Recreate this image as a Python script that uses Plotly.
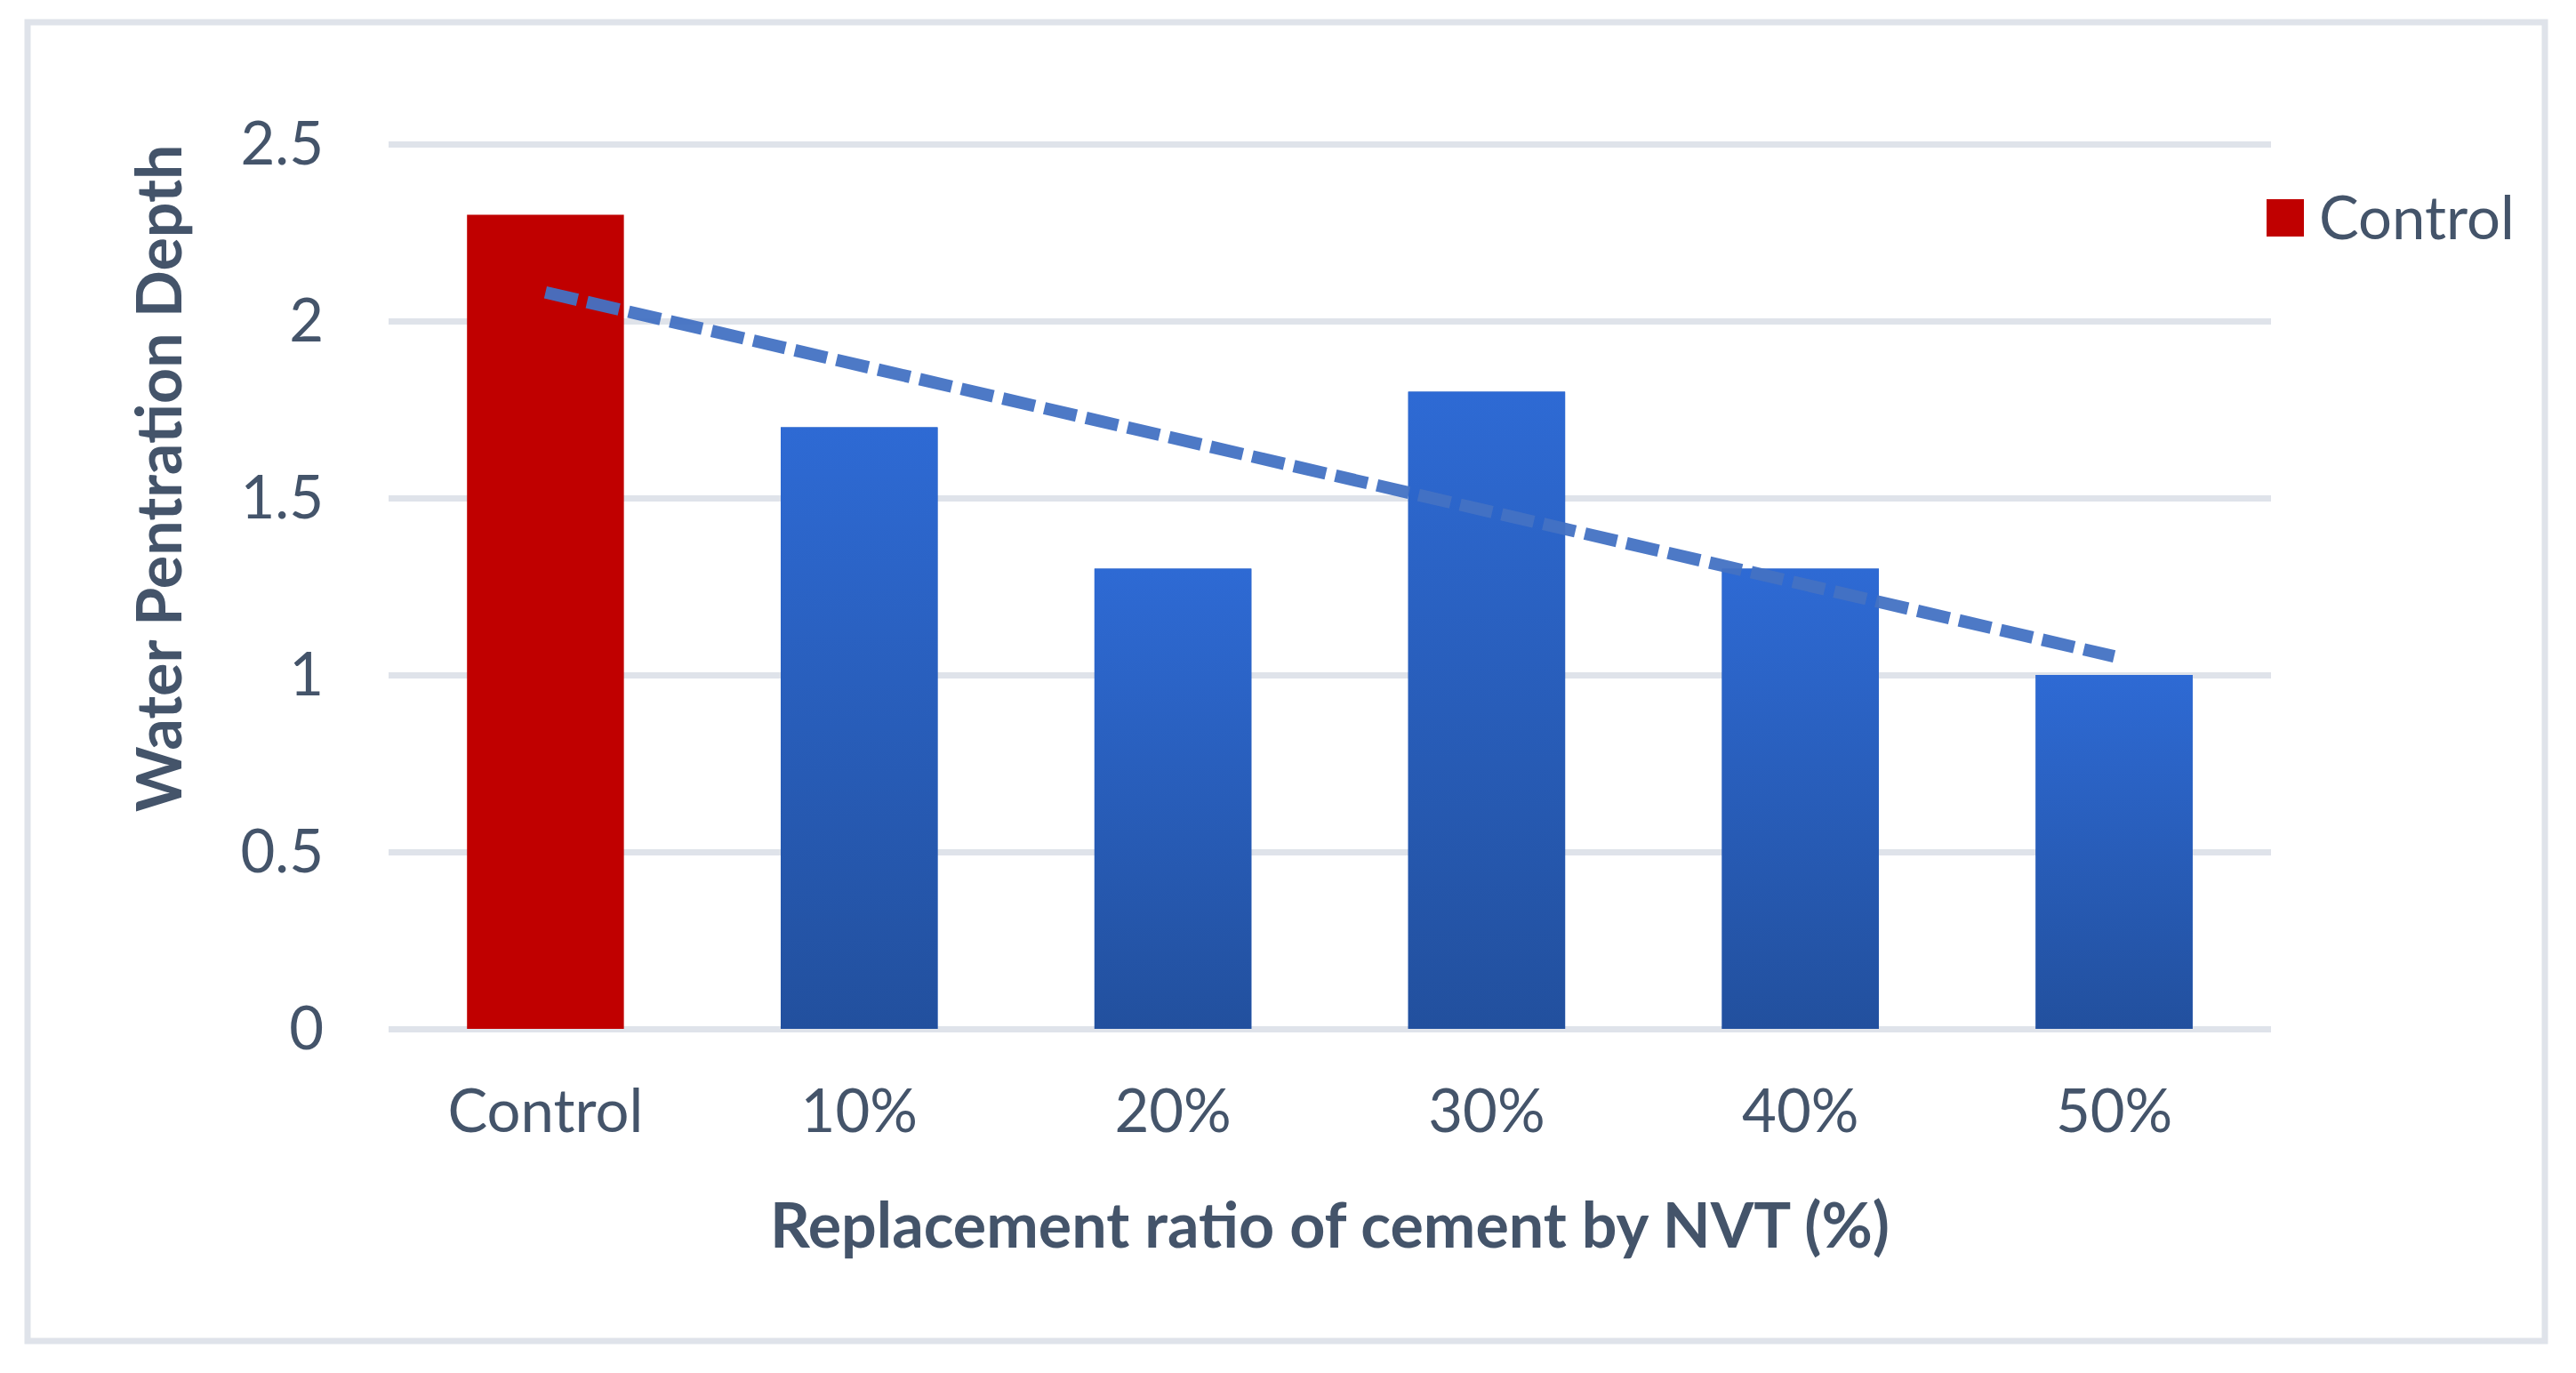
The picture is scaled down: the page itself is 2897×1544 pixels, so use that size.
import numpy as np
import plotly.graph_objects as go

# ---- data ----
categories = ["Control", "10%", "20%", "30%", "40%", "50%"]
depth = [2.3, 1.7, 1.3, 1.8, 1.3, 1.0]
bar_colors = ["#c00000", "#285dba", "#285dba", "#285dba", "#285dba", "#285dba"]
y_tick_vals = [0, 0.5, 1, 1.5, 2, 2.5]
y_tick_text = ["0", "0.5", "1", "1.5", "2", "2.5"]
legend_label = "Control"
x_title = "Replacement ratio of cement by NVT (%)"
y_title = "Water Pentration Depth"

# linear trendline (Excel-style) fitted to the bar values
idx = np.arange(len(depth))
slope, intercept = np.polyfit(idx, depth, 1)
trend = intercept + slope * idx

TEXT = "#44546a"
GRID = "#dfe3ea"
FONT = "Lato"
BLUE_TOP = "#2e6ad4"
BLUE_BOTTOM = "#22509e"
BAR_WIDTH = 0.5

W, H = 2897, 1544
ML, MR, MT, MB = 437, 343, 160, 385
PW, PH = W - ML - MR, H - MT - MB
PAD = 2 / 398.0  # keep edge gridlines just inside the plot area


def px(x):
    return (x - ML) / PW


def py(y):
    return (H - MB - y) / PH


fig = go.Figure()
fig.add_trace(go.Bar(
    x=idx, y=depth, width=BAR_WIDTH,
    marker=dict(color=bar_colors, line=dict(width=0)),
    showlegend=False, name="Water Pentration Depth",
))
# vertical gradient fill over the blue bars
for i, v in zip(idx, depth):
    if bar_colors[i] == "#c00000":
        continue
    h = BAR_WIDTH / 2
    fig.add_trace(go.Scatter(
        x=[i - h, i + h, i + h, i - h, i - h], y=[0, 0, v, v, 0],
        mode="lines", fill="toself", line=dict(width=0),
        fillgradient=dict(type="vertical", start=0, stop=v,
                          colorscale=[[0, BLUE_BOTTOM], [1, BLUE_TOP]]),
        hoverinfo="skip", showlegend=False,
    ))
fig.add_trace(go.Scatter(
    x=idx, y=trend, mode="lines",
    line=dict(color="#4472c4", width=14, dash="37px,11px"),
    opacity=0.95, showlegend=False, name="Linear trend",
))

# chart border
fig.add_shape(type="rect", xref="paper", yref="paper",
              x0=px(31), x1=px(2862), y0=py(1508), y1=py(25),
              line=dict(color=GRID, width=7), fillcolor="rgba(0,0,0,0)", layer="below")
# legend key + label
fig.add_shape(type="rect", xref="paper", yref="paper",
              x0=px(2549), x1=px(2591), y0=py(266), y1=py(224),
              line=dict(width=0), fillcolor="#c00000")
fig.add_annotation(text=legend_label, xref="paper", yref="paper",
                   x=px(2606), y=py(243), xanchor="left", yanchor="middle",
                   showarrow=False, font=dict(family=FONT, size=67, color=TEXT))
# y title
fig.add_annotation(text="<b>" + y_title + "</b>", xref="paper", yref="paper",
                   x=px(177), y=py(538), xanchor="center", yanchor="middle",
                   textangle=-90, showarrow=False,
                   font=dict(family=FONT, size=70, color=TEXT))

fig.update_layout(
    width=W, height=H, autosize=False,
    margin=dict(l=ML, r=MR, t=MT, b=MB, pad=0),
    paper_bgcolor="white", plot_bgcolor="white",
    font=dict(family=FONT, color=TEXT),
    xaxis=dict(
        range=[-0.5, len(categories) - 0.5],
        tickvals=idx, ticktext=categories,
        showgrid=False, zeroline=False, showline=False,
        ticks="", tickfont=dict(family=FONT, size=67, color=TEXT),
        ticklabelstandoff=46,
        title=dict(text="<b>" + x_title + "</b>", standoff=67,
                   font=dict(family=FONT, size=70, color=TEXT)),
        automargin=False,
    ),
    yaxis=dict(
        range=[-PAD, 2.5 + PAD], tickvals=y_tick_vals, ticktext=y_tick_text,
        showgrid=True, gridcolor=GRID, gridwidth=7,
        zeroline=False, showline=False, ticks="",
        tickfont=dict(family=FONT, size=67, color=TEXT),
        ticklabelstandoff=72, automargin=False,
    ),
)

fig.write_html("out.html", config={"displayModeBar": False},
               post_script="document.body.style.margin='0px';")
